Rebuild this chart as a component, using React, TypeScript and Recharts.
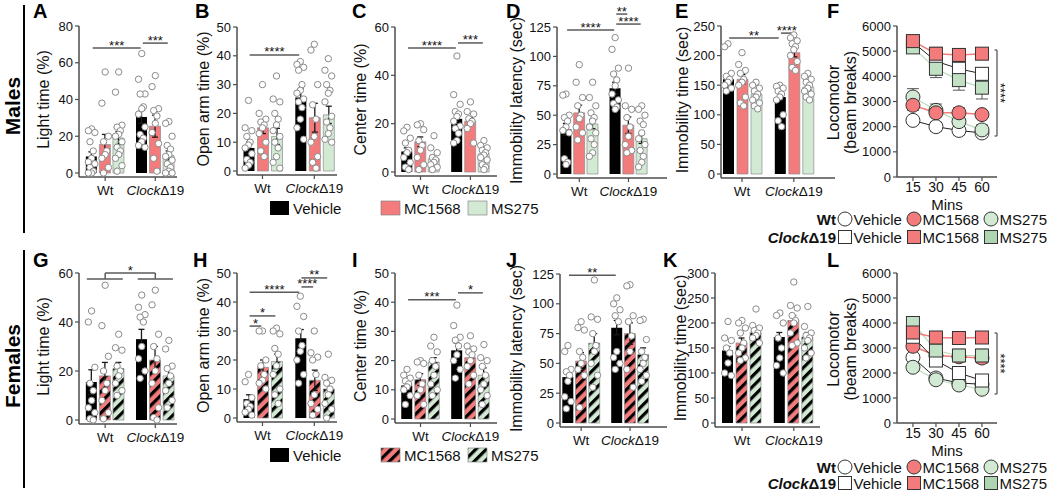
import React from "react";
import {
  Bar,
  Cell,
  ComposedChart,
  ErrorBar,
  Line,
  ReferenceLine,
  Scatter,
  XAxis,
  YAxis
} from "recharts";

const FONT = "'Liberation Sans', Arial, Helvetica, sans-serif";
const INK = "#111";
const AXIS = "#4d4d4d";
const SIG = "#5a5a5a";
const RED = "#f37b7b";
const GREEN = "#d2ead3";
const GREEN_SQ = "#c2e0c4";
const GREEN_DARK = "#aed4b1";

const GROUPS = ["Wt", "ClockΔ19"];
const TREATMENTS = ["Vehicle", "MC1568", "MS275"];
const MINS = [15, 30, 45, 60];

// bar order everywhere: Wt Vehicle, Wt MC1568, Wt MS275, Clock Vehicle, Clock MC1568, Clock MS275
const A_MEAN = [9, 15.5, 19, 30.5, 25.5, 9.5];
const A_SEM = [2.5, 5.5, 3.5, 3.5, 6, 2.5];
const A_DOTS = [
  [24, 23, 22, 17, 12, 8, 6, 5, 3, 1, 0, 0],
  [55, 38, 20, 17, 12, 10, 8, 3, 0],
  [55, 44, 26, 25, 23, 21, 20, 17, 14, 12, 10, 8, 4, 1],
  [65, 51, 43, 43, 36, 35, 32, 25, 21, 19, 17, 15, 14],
  [53, 47, 35, 34, 31, 27, 22, 16, 8, 1],
  [28, 27, 20, 15, 13, 10, 9, 7, 5, 3, 1, 0, 0]
];
const A_SIG: [number, number, number, string][] = [[0, 3, 68, "***"], [3, 5, 70.7, "***"]];

const B_MEAN = [8, 15, 12, 25.5, 18.5, 19.5];
const B_SEM = [2, 2, 2.8, 3, 5, 3];
const B_DOTS = [
  [24.5, 15, 14, 12, 10, 9, 8, 6, 4, 3, 2, 1],
  [30, 20, 18, 17, 16, 15, 13, 10, 7, 5],
  [33, 25, 24, 20, 18, 16, 14, 12, 10, 8, 5, 3, 1],
  [38, 37, 36, 35, 30, 28, 27, 25, 24, 22, 18, 15, 11],
  [44, 42, 30, 23, 18, 12, 10, 5, 3, 1],
  [39, 35, 33, 30, 28, 27, 24, 19, 17, 15, 13, 11, 10]
];
const B_SIG: [number, number, number, string][] = [[0, 3, 40.3, "****"]];

const C_MEAN = [8.5, 12.5, 5.5, 22, 21, 7.5];
const C_SEM = [1.5, 2, 1.5, 2, 1.5, 1];
const C_DOTS = [
  [18.5, 17, 14, 12, 9, 8, 6, 4, 2, 1],
  [20, 19.5, 17.5, 13, 11, 9, 6, 3, 1],
  [15, 10, 8, 6, 5, 4, 3, 2, 1],
  [48, 32, 28, 25, 24, 23, 21, 19, 18, 16, 13, 12],
  [29, 25, 24, 22, 21, 20, 18, 12],
  [13, 11, 10, 9, 8, 7, 6, 5, 3, 2, 1]
];
const C_SIG: [number, number, number, string][] = [[0, 3, 51.3, "****"], [3, 5, 53.4, "***"]];

const D_MEAN = [38, 52, 42.5, 73, 41.5, 30];
const D_SEM = [5, 6.5, 4, 5, 7, 4];
const D_DOTS = [
  [68, 67, 50, 48, 45, 40, 37, 35, 13, 10, 8],
  [93, 78, 65, 58, 50, 47, 40, 35, 29],
  [78, 65, 58, 52, 48, 45, 40, 35, 30, 25, 18, 15],
  [116, 106, 90, 85, 80, 75, 68, 63, 60, 57, 55],
  [90, 58, 55, 48, 40, 32, 25, 20, 18],
  [58, 55, 50, 45, 42, 35, 30, 25, 20, 15, 10, 6]
];
const D_SIG: [number, number, number, string][] = [
  [0, 3, 122.4, "****"],
  [3, 4, 136, "**"],
  [3, 5, 127.5, "****"]
];

const E_MEAN = [160, 160, 135, 130, 205, 147];
const E_SEM = [7, 8, 5, 5, 7, 5];
const E_DOTS = [
  [220, 215, 170, 165, 160, 155, 150, 145, 140],
  [205, 185, 175, 170, 160, 155, 150, 130, 120, 115],
  [155, 150, 145, 140, 135, 130, 125, 120, 115, 110],
  [150, 148, 145, 140, 135, 130, 125, 100, 90, 80],
  [235, 230, 225, 220, 215, 210, 200, 190, 180, 175],
  [170, 165, 160, 155, 150, 145, 140, 135, 130, 125]
];
const E_SIG: [number, number, number, string][] = [[0, 3, 229.7, "**"], [3, 4, 238, "****"]];

const G_MEAN = [15.5, 18, 21, 33, 24.5, 18];
const G_SEM = [5, 5.5, 2.5, 4, 5.5, 3];
const G_DOTS = [
  [44.5, 40, 21.5, 15, 12, 8, 5, 3, 0.5, 0],
  [55, 38.5, 26, 20, 15, 12, 8, 3, 0.5],
  [35, 29.5, 28.5, 22, 20, 18, 15, 12, 10],
  [51, 46, 43, 42, 40, 30, 25, 20, 17],
  [53, 47, 35, 30, 25, 20, 15, 5, 1, 0],
  [32.5, 29, 22, 21, 18, 15, 12, 8, 5]
];
const G_BRACKET = { low: 57.6, high: 60, stars: "*" };

const H_MEAN = [6.5, 17.5, 19.5, 27.5, 13, 10];
const H_SEM = [1.5, 2.5, 2.5, 3, 3.5, 2];
const H_DOTS = [
  [15, 12.5, 7, 5, 4, 3, 2, 1],
  [30, 30, 20, 18, 15, 13, 12, 10],
  [31, 30, 29, 24, 22, 18, 15, 10, 8, 5],
  [42, 38.5, 35, 30, 25, 23, 20, 15, 12],
  [30, 22.5, 21, 20, 15, 8, 5, 3, 1],
  [22, 14, 13, 12, 10, 8, 5, 3, 0]
];
const H_SIG: [number, number, number, string][] = [
  [0, 1, 31.7, "*"],
  [0, 2, 35.2, "*"],
  [0, 3, 43.4, "****"],
  [3, 4, 45.2, "****"],
  [3, 5, 48.3, "**"]
];

const I_MEAN = [11.5, 13.5, 19.5, 23.5, 21, 15];
const I_SEM = [1.5, 2, 1.5, 2.5, 1.5, 2.5];
const I_DOTS = [
  [17, 15, 14, 13, 12, 11, 10, 8, 5],
  [20, 19.5, 19, 15, 12, 10, 8, 5],
  [28, 25, 23, 20, 18, 15, 12, 10, 8],
  [39, 32, 28, 27, 25, 22, 20, 17, 14],
  [28.5, 25, 24, 23, 22, 20, 18, 15, 12],
  [25.5, 21, 20, 18, 15, 12, 10, 8, 5]
];
const I_SIG: [number, number, number, string][] = [[0, 3, 40.8, "***"], [3, 5, 43.2, "*"]];

const J_MEAN = [38.5, 52, 67, 80, 75, 57.5];
const J_SEM = [5, 7, 8, 6, 9, 5.5];
const J_DOTS = [
  [65, 60, 45, 43, 40, 35, 22, 18, 12],
  [85, 80, 78, 60, 55, 50, 45, 40, 13],
  [120, 89, 87, 75, 65, 60, 50, 40, 30],
  [105, 100, 95, 90, 85, 60, 55, 50, 45],
  [116, 115, 90, 85, 73, 60, 45, 30],
  [87, 86, 70, 60, 55, 50, 45, 40, 35]
];
const J_SIG: [number, number, number, string][] = [[0, 3, 124, "**"]];

const K_MEAN = [145, 160, 182, 172, 205, 172];
const K_SEM = [8, 10, 7, 9, 10, 9];
const K_DOTS = [
  [203, 170, 165, 150, 140, 120, 100, 95],
  [205, 200, 190, 180, 160, 150, 140, 130, 125],
  [228, 195, 190, 185, 180, 175, 170, 160],
  [220, 215, 200, 170, 150, 130, 115, 100],
  [282, 235, 230, 215, 205, 200, 180, 160, 155],
  [233, 193, 180, 175, 170, 165, 150, 140, 130]
];

// locomotor, beam breaks per 15-min bin
const F_WT_VEH = [2250, 2000, 1850, 1750];
const F_WT_VEH_SEM = [120, 180, 180, 150];
const F_WT_MC = [2850, 2550, 2550, 2480];
const F_WT_MC_SEM = [200, 150, 200, 150];
const F_WT_MS = [3180, 2650, 2200, 1870];
const F_WT_MS_SEM = [330, 250, 200, 200];
const F_CL_VEH = [5350, 4600, 4300, 4100];
const F_CL_VEH_SEM = [150, 350, 300, 250];
const F_CL_MC = [5400, 4900, 4850, 4900];
const F_CL_MC_SEM = [150, 250, 250, 200];
const F_CL_MS = [5150, 4300, 3850, 3550];
const F_CL_MS_SEM = [150, 350, 400, 450];

const L_WT_VEH = [2620, 1800, 1600, 1550];
const L_WT_VEH_SEM = [150, 150, 150, 150];
const L_WT_MC = [3070, 2700, 2650, 2600];
const L_WT_MC_SEM = [150, 150, 150, 200];
const L_WT_MS = [2230, 1730, 1520, 1350];
const L_WT_MS_SEM = [150, 150, 150, 150];
const L_CL_VEH = [3450, 2500, 2000, 1700];
const L_CL_VEH_SEM = [200, 200, 200, 150];
const L_CL_MC = [3620, 3420, 3400, 3420];
const L_CL_MC_SEM = [200, 150, 150, 150];
const L_CL_MS = [4000, 2900, 2700, 2700];
const L_CL_MS_SEM = [250, 250, 250, 250];

const F_BRACKET = { low: 1629, high: 5046, stars: "****" };
const L_BRACKET = { low: 1160, high: 3600, stars: "****" };

// ---- layout (page pixels) ----
const SLOT = [0, 1, 2, 3.7, 4.7, 5.7];
const GROUP_X = [1, 4.7];
const JITTER = [0, -0.24, 0.24, -0.12, 0.12];

type Layout = {
  row: number;
  axisX: number;
  right: number;
  top: number;
  zero: number;
  yMax: number;
  step: number;
  xMin: number;
  xMax: number;
  titleX: number;
};

const LAYOUT: Record<string, Layout> = {
  A: { row: 0, axisX: 79, right: 177, top: 26, zero: 173, yMax: 80, step: 20, xMin: -0.93, xMax: 6.3, titleX: 43 },
  B: { row: 0, axisX: 237, right: 337, top: 27, zero: 171, yMax: 50, step: 10, xMin: -0.82, xMax: 6.32, titleX: 203 },
  C: { row: 0, axisX: 395, right: 497, top: 27, zero: 172, yMax: 60, step: 20, xMin: -0.89, xMax: 6.67, titleX: 360 },
  D: { row: 0, axisX: 557, right: 667, top: 27, zero: 174, yMax: 125, step: 25, xMin: -0.68, xMax: 7.6, titleX: 516 },
  E: { row: 0, axisX: 721, right: 835, top: 26, zero: 174, yMax: 250, step: 50, xMin: -0.5, xMax: 7.64, titleX: 682 },
  F: { row: 0, axisX: 897, right: 997, top: 26, zero: 177, yMax: 6000, step: 1000, xMin: 4.6, xMax: 69.8, titleX: 833 },
  G: { row: 1, axisX: 79, right: 177, top: 273, zero: 420, yMax: 60, step: 20, xMin: -0.93, xMax: 6.3, titleX: 43 },
  H: { row: 1, axisX: 237, right: 337, top: 273, zero: 418, yMax: 50, step: 10, xMin: -0.82, xMax: 6.32, titleX: 203 },
  I: { row: 1, axisX: 395, right: 497, top: 273, zero: 419, yMax: 50, step: 10, xMin: -0.89, xMax: 6.67, titleX: 360 },
  J: { row: 1, axisX: 560, right: 667, top: 274, zero: 423, yMax: 125, step: 25, xMin: -0.6, xMax: 7.5, titleX: 516 },
  K: { row: 1, axisX: 715, right: 820, top: 273, zero: 423, yMax: 300, step: 50, xMin: -0.93, xMax: 6.57, titleX: 680 },
  L: { row: 1, axisX: 897, right: 997, top: 273, zero: 423, yMax: 6000, step: 1000, xMin: 4.6, xMax: 69.8, titleX: 833 }
};

const LETTERS: [string, number, number][] = [
  ["A", 33, 17.5], ["B", 195, 17.5], ["C", 352, 17.5], ["D", 506, 17.5], ["E", 675, 17.5], ["F", 827, 17.5],
  ["G", 33, 267], ["H", 193, 267], ["I", 352, 267], ["J", 506, 267], ["K", 663, 267], ["L", 827, 267]
];

const tickFont = { fontSize: 13, fill: INK, fontFamily: FONT };

function yTicks(max: number, step: number) {
  const out: number[] = [];
  for (let v = 0; v <= max + 1e-6; v += step) out.push(v);
  return out;
}

function AxisTitle({ tx, ty, lines }: any) {
  return (
    <text
      x={tx}
      y={ty}
      transform={`rotate(-90 ${tx} ${ty})`}
      textAnchor="middle"
      dominantBaseline="central"
      fontSize={16}
      fontFamily={FONT}
      fill={INK}
    >
      {lines.map((l: string, i: number) => (
        <tspan key={l} x={tx} dy={i === 0 ? 0 : 17}>
          {l}
        </tspan>
      ))}
    </text>
  );
}

function MinsLabel({ tx, ty }: any) {
  return (
    <text x={tx} y={ty} textAnchor="middle" dominantBaseline="central" fontSize={15} fontFamily={FONT} fill={INK}>
      Mins
    </text>
  );
}

function StarLabel({ viewBox, text, vertical }: any) {
  if (!viewBox) return null;
  const { x, y, width, height } = viewBox;
  if (vertical) {
    const cx = x - 1;
    const cy = y + height / 2;
    return (
      <text x={cx} y={cy} transform={`rotate(90 ${cx} ${cy})`} textAnchor="middle" fontSize={13} fontFamily={FONT} fill={INK}>
        {text}
      </text>
    );
  }
  return (
    <text x={x + width / 2} y={y + 1.5} textAnchor="middle" fontSize={13} fontFamily={FONT} fill={INK}>
      {text}
    </text>
  );
}

function GroupLabel({ x, y, text, anchor = "middle", size = 13.5, weight = "normal" }: any) {
  const italic = text.startsWith("Clock");
  return (
    <text x={x} y={y} textAnchor={anchor} fontSize={size} fontWeight={weight} fontFamily={FONT} fill={INK} dominantBaseline="central">
      {italic ? (
        <>
          <tspan fontStyle="italic">Clock</tspan>
          <tspan>{text.slice(5)}</tspan>
        </>
      ) : (
        text
      )}
    </text>
  );
}

function Hatch({ id, color }: { id: string; color: string }) {
  return (
    <pattern id={id} patternUnits="userSpaceOnUse" width={7.5} height={7.5} patternTransform="rotate(45)">
      <rect width={7.5} height={7.5} fill={color} />
      <rect width={3.2} height={7.5} fill="#000" />
    </pattern>
  );
}

const dotShape = (p: any) =>
  p.cx == null ? <g /> : <circle cx={p.cx} cy={p.cy} r={3.2} fill="#fff" stroke="#8a8a8a" strokeWidth={1} />;

type BarPanelProps = {
  id: string;
  L: Layout;
  title: string;
  mean: number[];
  sem: number[];
  dots: number[][];
  sig?: [number, number, number, string][];
  hatched?: boolean;
  bracket?: { low: number; high: number; stars: string };
};

function BarPanel({ id, L, title, mean, sem, dots, sig = [], hatched, bracket }: BarPanelProps) {
  const T = L.row === 0 ? 0 : 240;
  const H = L.row === 0 ? 200 : 212;
  const left = L.axisX - 62;
  const width = L.right + 24 - left;
  const axisY = L.zero + 4;
  const yMin = -((axisY - L.zero) * L.yMax) / (L.zero - L.top);
  const rows = mean.map((m, i) => ({ x: SLOT[i], mean: m, sem: sem[i] }));
  const pts = dots.flatMap((list, i) => list.map((v, j) => ({ x: SLOT[i] + JITTER[j % JITTER.length], v })));
  const fills = [
    "#000",
    hatched ? `url(#hr-${id})` : RED,
    hatched ? `url(#hg-${id})` : GREEN
  ];
  const axisLine = { stroke: AXIS, strokeWidth: 1.5 };
  const segStyle = { stroke: SIG, strokeWidth: 1.5, ifOverflow: "visible" as const };

  return (
    <div style={{ position: "absolute", left, top: T, width, height: H }}>
      <ComposedChart
        width={width}
        height={H}
        data={rows}
        margin={{ top: L.top - T, right: width - (L.right - left), bottom: 0, left: 0 }}
      >
        <defs>
          <Hatch id={`hr-${id}`} color={RED} />
          <Hatch id={`hg-${id}`} color={GREEN} />
        </defs>
        <XAxis
          dataKey="x"
          type="number"
          domain={[L.xMin, L.xMax]}
          allowDataOverflow
          ticks={GROUP_X}
          interval={0}
          height={H - (axisY - T)}
          tickSize={4}
          tickMargin={3}
          axisLine={axisLine}
          tickLine={{ stroke: AXIS, strokeWidth: 1.2 }}
          tick={(p: any) => (
            <GroupLabel x={p.x} y={p.y + 6} text={GROUPS[GROUP_X.indexOf(p.payload.value)] ?? ""} />
          )}
        />
        <XAxis xAxisId="d" dataKey="x" type="number" domain={[L.xMin, L.xMax]} allowDataOverflow hide />
        <YAxis
          type="number"
          domain={[yMin, L.yMax]}
          allowDataOverflow
          ticks={yTicks(L.yMax, L.step)}
          interval={0}
          width={L.axisX - left}
          tickSize={4}
          tickMargin={2}
          axisLine={axisLine}
          tickLine={{ stroke: AXIS, strokeWidth: 1.2 }}
          tick={tickFont}
          label={<AxisTitle tx={L.titleX - left} ty={(L.top + L.zero) / 2 - T} lines={[title]} />}
        />
        <Bar dataKey="mean" barSize={11} isAnimationActive={false}>
          {rows.map((r, i) => (
            <Cell
              key={i}
              fill={fills[i % 3]}
              stroke={i % 3 === 0 ? "none" : "#8d8d8d"}
              strokeWidth={0.7}
            />
          ))}
          <ErrorBar dataKey="sem" direction="y" width={3} stroke="#1a1a1a" strokeWidth={1.3} />
        </Bar>
        <Scatter xAxisId="d" data={pts} dataKey="v" isAnimationActive={false} shape={dotShape} />
        {sig.map(([a, b, y, s], k) => (
          <ReferenceLine
            key={`s${k}`}
            segment={[
              { x: SLOT[a] + 0.08, y },
              { x: SLOT[b] - 0.08, y }
            ]}
            {...segStyle}
            label={<StarLabel text={s} />}
          />
        ))}
        {bracket && (
          <>
            <ReferenceLine segment={[{ x: SLOT[0] - 0.35, y: bracket.low }, { x: SLOT[2] + 0.3, y: bracket.low }]} {...segStyle} />
            <ReferenceLine segment={[{ x: SLOT[3] - 0.3, y: bracket.low }, { x: SLOT[5] + 0.3, y: bracket.low }]} {...segStyle} />
            <ReferenceLine segment={[{ x: GROUP_X[0], y: bracket.low }, { x: GROUP_X[0], y: bracket.high }]} {...segStyle} />
            <ReferenceLine segment={[{ x: GROUP_X[1], y: bracket.low }, { x: GROUP_X[1], y: bracket.high }]} {...segStyle} />
            <ReferenceLine
              segment={[{ x: GROUP_X[0], y: bracket.high }, { x: GROUP_X[1], y: bracket.high }]}
              {...segStyle}
              label={<StarLabel text={bracket.stars} />}
            />
          </>
        )}
      </ComposedChart>
    </div>
  );
}

type Series = { key: string; values: number[]; sem: number[] };

const LINE_STYLE: Record<string, { shape: string; fill: string; line: string; lw: number }> = {
  wv: { shape: "circle", fill: "#fff", line: "#222", lw: 1 },
  wm: { shape: "circle", fill: RED, line: RED, lw: 1.5 },
  ws: { shape: "circle", fill: GREEN, line: "#b7ddb9", lw: 1.2 },
  cv: { shape: "square", fill: "#fff", line: "#222", lw: 1 },
  cm: { shape: "square", fill: RED, line: RED, lw: 1.5 },
  cs: { shape: "square", fill: GREEN_SQ, line: "#b7ddb9", lw: 1.2 }
};

const marker = (shape: string, fill: string) => (p: any) => {
  const { cx, cy, index } = p;
  if (cx == null || cy == null) return <g key={index} />;
  return shape === "circle" ? (
    <circle key={index} cx={cx} cy={cy} r={7} fill={fill} stroke="#333" strokeWidth={1} />
  ) : (
    <rect key={index} x={cx - 6.5} y={cy - 6.5} width={13} height={13} fill={fill} stroke="#333" strokeWidth={1} />
  );
};

function LinePanel({ L, series, bracket }: { L: Layout; series: Series[]; bracket: { low: number; high: number; stars: string } }) {
  const T = L.row === 0 ? 0 : 240;
  const H = L.row === 0 ? 212 : 222;
  const left = L.axisX - 80;
  const width = L.right + 24 - left;
  const rows = MINS.map((t, i) => {
    const r: any = { t };
    series.forEach((s) => {
      r[s.key] = s.values[i];
      r[s.key + "E"] = s.sem[i];
    });
    return r;
  });
  const axisLine = { stroke: AXIS, strokeWidth: 1.5 };
  const segStyle = { stroke: SIG, strokeWidth: 1.3, ifOverflow: "visible" as const };
  const minsY = (L.row === 0 ? 204 : 450) - T;

  return (
    <div style={{ position: "absolute", left, top: T, width, height: H }}>
      <ComposedChart
        width={width}
        height={H}
        data={rows}
        margin={{ top: L.top - T, right: width - (L.right - left), bottom: 0, left: 0 }}
      >
        <XAxis
          dataKey="t"
          type="number"
          domain={[L.xMin, L.xMax]}
          allowDataOverflow
          ticks={MINS}
          interval={0}
          height={H - (L.zero - T)}
          tickSize={4}
          tickMargin={1}
          axisLine={axisLine}
          tickLine={{ stroke: AXIS, strokeWidth: 1.2 }}
          tick={{ ...tickFont, fontSize: 14 }}
          label={<MinsLabel tx={947 - left} ty={minsY} />}
        />
        <YAxis
          type="number"
          domain={[0, L.yMax]}
          ticks={yTicks(L.yMax, L.step)}
          interval={0}
          width={L.axisX - left}
          tickSize={4}
          tickMargin={2}
          axisLine={axisLine}
          tickLine={{ stroke: AXIS, strokeWidth: 1.2 }}
          tick={tickFont}
          label={
            <AxisTitle
              tx={L.titleX - left}
              ty={(L.top + L.zero) / 2 - T + 1}
              lines={["Locomotor", "(beam breaks)"]}
            />
          }
        />
        {series.map((s) => {
          const st = LINE_STYLE[s.key];
          return (
            <Line
              key={s.key}
              type="linear"
              dataKey={s.key}
              stroke={st.line}
              strokeWidth={st.lw}
              dot={marker(st.shape, st.fill)}
              activeDot={false}
              isAnimationActive={false}
            />
          );
        })}
        {/* error bars drawn over the markers, as in the source figure */}
        {series.map((s) => (
          <Line
            key={s.key + "-err"}
            type="linear"
            dataKey={s.key}
            stroke="none"
            dot={false}
            activeDot={false}
            legendType="none"
            isAnimationActive={false}
          >
            <ErrorBar dataKey={s.key + "E"} direction="y" width={6} stroke="#555" strokeWidth={1} />
          </Line>
        ))}
        <ReferenceLine segment={[{ x: L.xMax, y: bracket.low }, { x: L.xMax, y: bracket.high }]} {...segStyle} label={<StarLabel text={bracket.stars} vertical />} />
        <ReferenceLine segment={[{ x: L.xMax - 1.6, y: bracket.low }, { x: L.xMax, y: bracket.low }]} {...segStyle} />
        <ReferenceLine segment={[{ x: L.xMax - 1.6, y: bracket.high }, { x: L.xMax, y: bracket.high }]} {...segStyle} />
      </ComposedChart>
    </div>
  );
}

function BarLegend({ cy, hatched }: { cy: number; hatched: boolean }) {
  const xs = [270, 381, 468];
  const fills = ["#000", hatched ? "url(#ov-hr)" : RED, hatched ? "url(#ov-hg)" : GREEN];
  return (
    <g>
      {TREATMENTS.map((t, i) => (
        <g key={t}>
          <rect x={xs[i]} y={cy - 7} width={19} height={14} fill={fills[i]} stroke={i === 0 ? "none" : "#888"} strokeWidth={0.7} />
          <text x={xs[i] + 23} y={cy} dominantBaseline="central" fontSize={15} fill={INK}>
            {t}
          </text>
        </g>
      ))}
    </g>
  );
}

function LineLegend({ y1, y2 }: { y1: number; y2: number }) {
  const xs = [845, 914, 991];
  const rowFills = [
    ["#fff", RED, GREEN],
    ["#fff", RED, GREEN_DARK]
  ];
  return (
    <g>
      {[y1, y2].map((y, r) => (
        <g key={r}>
          <GroupLabel x={836} y={y} text={GROUPS[r]} anchor="end" size={15} weight="bold" />
          {TREATMENTS.map((t, i) => (
            <g key={t}>
              {r === 0 ? (
                <circle cx={xs[i]} cy={y} r={7} fill={rowFills[r][i]} stroke="#333" />
              ) : (
                <rect x={xs[i] - 6.5} y={y - 6.5} width={13} height={13} fill={rowFills[r][i]} stroke="#333" />
              )}
              <text x={xs[i] + 8.5} y={y} dominantBaseline="central" fontSize={15} fill={INK}>
                {t}
              </text>
            </g>
          ))}
        </g>
      ))}
    </g>
  );
}

function Overlay() {
  return (
    <svg width={1050} height={491} style={{ position: "absolute", left: 0, top: 0 }} fontFamily={FONT}>
      <defs>
        <Hatch id="ov-hr" color={RED} />
        <Hatch id="ov-hg" color={GREEN} />
      </defs>
      <text transform="translate(12 106) rotate(-90)" textAnchor="middle" dominantBaseline="central" fontSize={21} fontWeight="bold" fill="#000">
        Males
      </text>
      <text transform="translate(12 366) rotate(-90)" textAnchor="middle" dominantBaseline="central" fontSize={21} fontWeight="bold" fill="#000">
        Females
      </text>
      <line x1={24} y1={5} x2={24} y2={233} stroke="#000" strokeWidth={2} />
      <line x1={24} y1={250} x2={24} y2={488} stroke="#000" strokeWidth={2} />
      {LETTERS.map(([t, x, y]) => (
        <text key={t} x={x} y={y} fontSize={20} fontWeight="bold" fill="#000">
          {t}
        </text>
      ))}
      <BarLegend cy={208} hatched={false} />
      <BarLegend cy={455} hatched />
      <LineLegend y1={219} y2={237} />
      <LineLegend y1={467} y2={483} />
    </svg>
  );
}

const fSeries: Series[] = [
  { key: "wv", values: F_WT_VEH, sem: F_WT_VEH_SEM },
  { key: "ws", values: F_WT_MS, sem: F_WT_MS_SEM },
  { key: "wm", values: F_WT_MC, sem: F_WT_MC_SEM },
  { key: "cv", values: F_CL_VEH, sem: F_CL_VEH_SEM },
  { key: "cs", values: F_CL_MS, sem: F_CL_MS_SEM },
  { key: "cm", values: F_CL_MC, sem: F_CL_MC_SEM }
];

const lSeries: Series[] = [
  { key: "wv", values: L_WT_VEH, sem: L_WT_VEH_SEM },
  { key: "ws", values: L_WT_MS, sem: L_WT_MS_SEM },
  { key: "wm", values: L_WT_MC, sem: L_WT_MC_SEM },
  { key: "cv", values: L_CL_VEH, sem: L_CL_VEH_SEM },
  { key: "cs", values: L_CL_MS, sem: L_CL_MS_SEM },
  { key: "cm", values: L_CL_MC, sem: L_CL_MC_SEM }
];

export default function App() {
  return (
    <div
      style={{
        position: "absolute",
        left: 0,
        top: 0,
        width: 1050,
        height: 491,
        overflow: "hidden",
        background: "#fff",
        fontFamily: FONT
      }}
    >
      <Overlay />
      <BarPanel id="a" L={LAYOUT.A} title="Light time (%)" mean={A_MEAN} sem={A_SEM} dots={A_DOTS} sig={A_SIG} />
      <BarPanel id="b" L={LAYOUT.B} title="Open arm time (%)" mean={B_MEAN} sem={B_SEM} dots={B_DOTS} sig={B_SIG} />
      <BarPanel id="c" L={LAYOUT.C} title="Center time (%)" mean={C_MEAN} sem={C_SEM} dots={C_DOTS} sig={C_SIG} />
      <BarPanel id="d" L={LAYOUT.D} title="Immobility latency (sec)" mean={D_MEAN} sem={D_SEM} dots={D_DOTS} sig={D_SIG} />
      <BarPanel id="e" L={LAYOUT.E} title="Immobility time (sec)" mean={E_MEAN} sem={E_SEM} dots={E_DOTS} sig={E_SIG} />
      <LinePanel L={LAYOUT.F} series={fSeries} bracket={F_BRACKET} />
      <BarPanel id="g" L={LAYOUT.G} title="Light time (%)" mean={G_MEAN} sem={G_SEM} dots={G_DOTS} hatched bracket={G_BRACKET} />
      <BarPanel id="h" L={LAYOUT.H} title="Open arm time (%)" mean={H_MEAN} sem={H_SEM} dots={H_DOTS} sig={H_SIG} hatched />
      <BarPanel id="i" L={LAYOUT.I} title="Center time (%)" mean={I_MEAN} sem={I_SEM} dots={I_DOTS} sig={I_SIG} hatched />
      <BarPanel id="j" L={LAYOUT.J} title="Immobility latency (sec)" mean={J_MEAN} sem={J_SEM} dots={J_DOTS} sig={J_SIG} hatched />
      <BarPanel id="k" L={LAYOUT.K} title="Immobility time (sec)" mean={K_MEAN} sem={K_SEM} dots={K_DOTS} hatched />
      <LinePanel L={LAYOUT.L} series={lSeries} bracket={L_BRACKET} />
    </div>
  );
}
